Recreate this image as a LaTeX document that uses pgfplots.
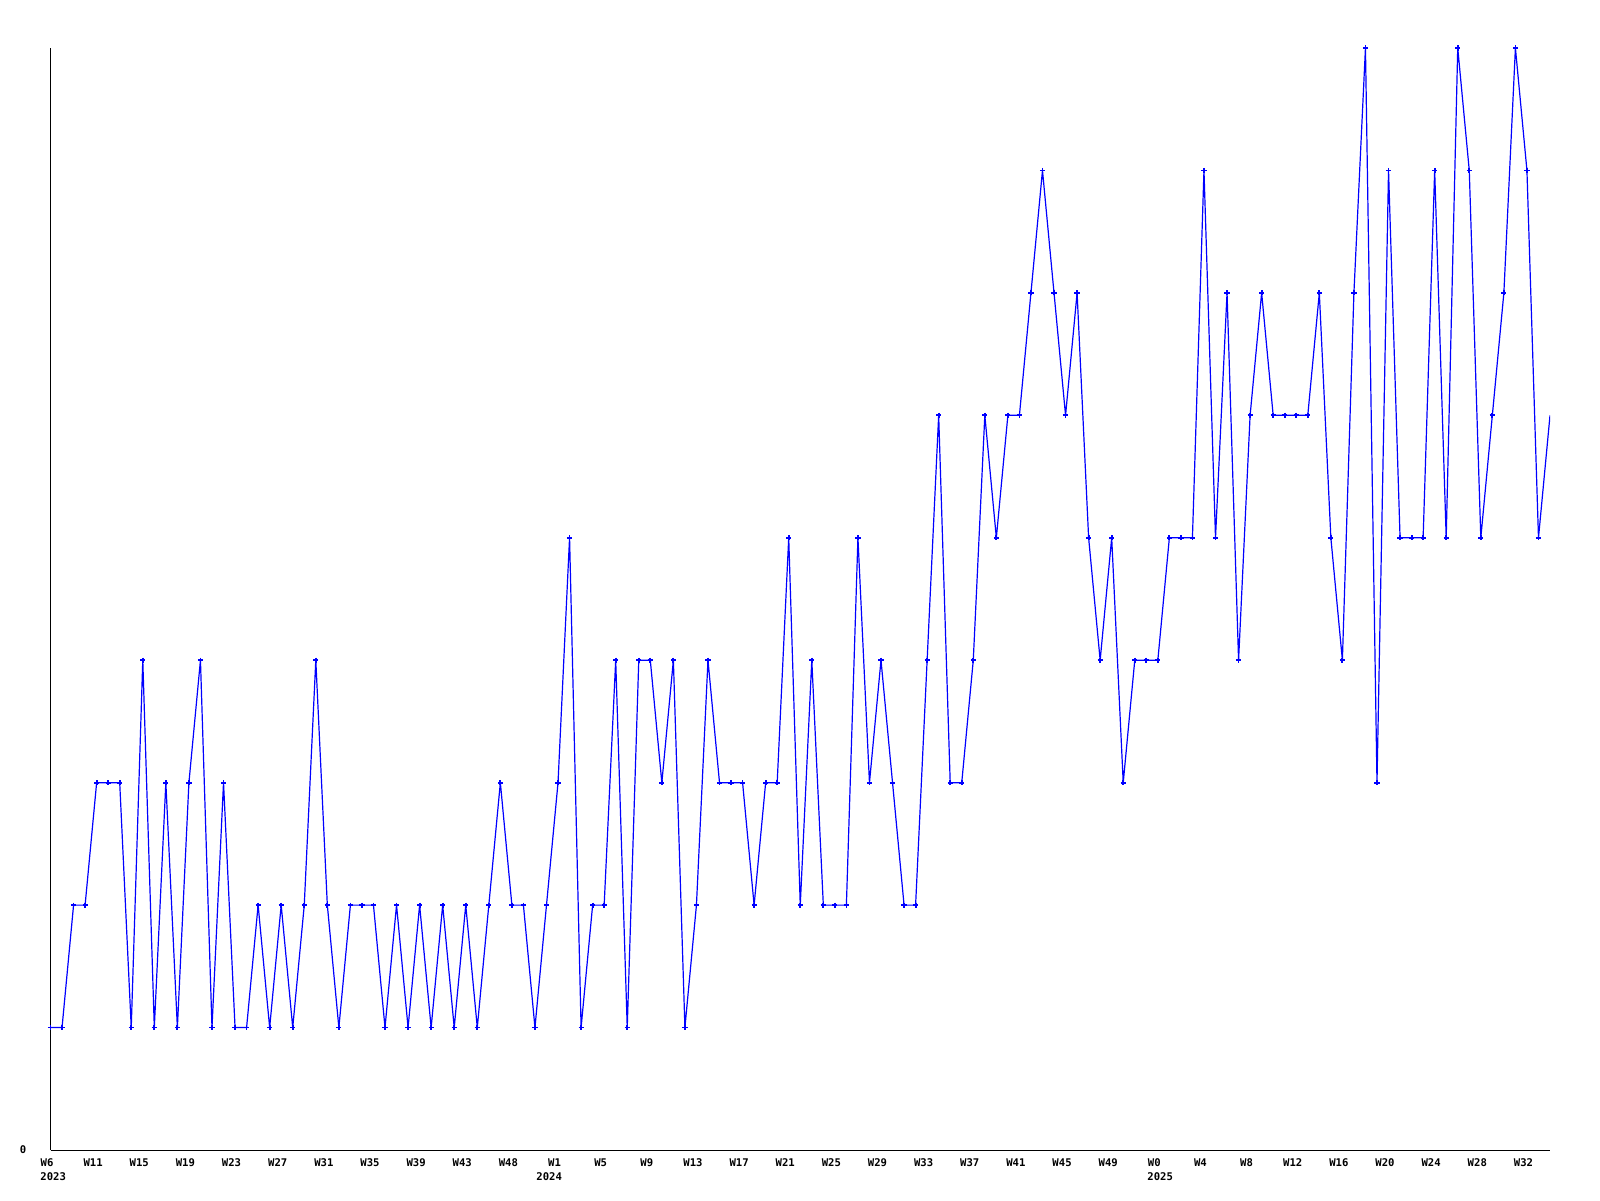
\documentclass[border=0pt]{standalone}
\usepackage{fontspec}
\setmonofont{DejaVu Sans Mono}
\usepackage{pgfplots}
\pgfplotsset{compat=1.18}

\newcommand{\lbl}{\fontsize{5.3}{6}\ttfamily\bfseries}

\begin{document}
\begin{tikzpicture}[x=1pt,y=1pt]
\path[use as bounding box, fill=white] (0,0) rectangle (800,600);
\begin{axis}[
    at={(25.25pt,25pt)}, anchor=south west,
    scale only axis, width=749.75pt, height=551pt,
    xmin=0, xmax=130, ymin=0, ymax=9,
    axis lines*=left,
    axis line style={black, line width=0.5pt, -},
    major tick length=0pt,
    ytick={0}, yticklabels={0},
    yticklabel style={anchor=center, xshift=-13.75pt, font=\lbl},
    xtick={0,4,...,128},
    xticklabels={W6,W11,W15,W19,W23,W27,W31,W35,W39,W43,W48,W1,W5,W9,W13,W17,W21,W25,W29,W33,W37,W41,W45,W49,W0,W4,W8,W12,W16,W20,W24,W28,W32},
    xticklabel style={anchor=center, yshift=-6.5pt, xshift=-1.75pt, font=\lbl, inner sep=0pt},
    clip=true,
  ]
  % last week is cut off at the right edge, so no marker there
  \addplot[color={rgb,255:red,0;green,0;blue,255}, line width=0.6pt,
      mark=+, mark size=1.3pt, mark options={line width=0.9pt},
      mark indices={1,...,130}]
    table[x=i, y=v] {
i v
0 1
1 1
2 2
3 2
4 3
5 3
6 3
7 1
8 4
9 1
10 3
11 1
12 3
13 4
14 1
15 3
16 1
17 1
18 2
19 1
20 2
21 1
22 2
23 4
24 2
25 1
26 2
27 2
28 2
29 1
30 2
31 1
32 2
33 1
34 2
35 1
36 2
37 1
38 2
39 3
40 2
41 2
42 1
43 2
44 3
45 5
46 1
47 2
48 2
49 4
50 1
51 4
52 4
53 3
54 4
55 1
56 2
57 4
58 3
59 3
60 3
61 2
62 3
63 3
64 5
65 2
66 4
67 2
68 2
69 2
70 5
71 3
72 4
73 3
74 2
75 2
76 4
77 6
78 3
79 3
80 4
81 6
82 5
83 6
84 6
85 7
86 8
87 7
88 6
89 7
90 5
91 4
92 5
93 3
94 4
95 4
96 4
97 5
98 5
99 5
100 8
101 5
102 7
103 4
104 6
105 7
106 6
107 6
108 6
109 6
110 7
111 5
112 4
113 7
114 9
115 3
116 8
117 5
118 5
119 5
120 8
121 5
122 9
123 8
124 5
125 6
126 7
127 9
128 8
129 5
130 6
    };
\end{axis}
\node[anchor=west, inner sep=0pt, font=\lbl] at (20pt,11.5pt) {2023};
\node[anchor=west, inner sep=0pt, font=\lbl] at (268pt,11.5pt) {2024};
\node[anchor=west, inner sep=0pt, font=\lbl] at (573.5pt,11.5pt) {2025};
\end{tikzpicture}
\end{document}
